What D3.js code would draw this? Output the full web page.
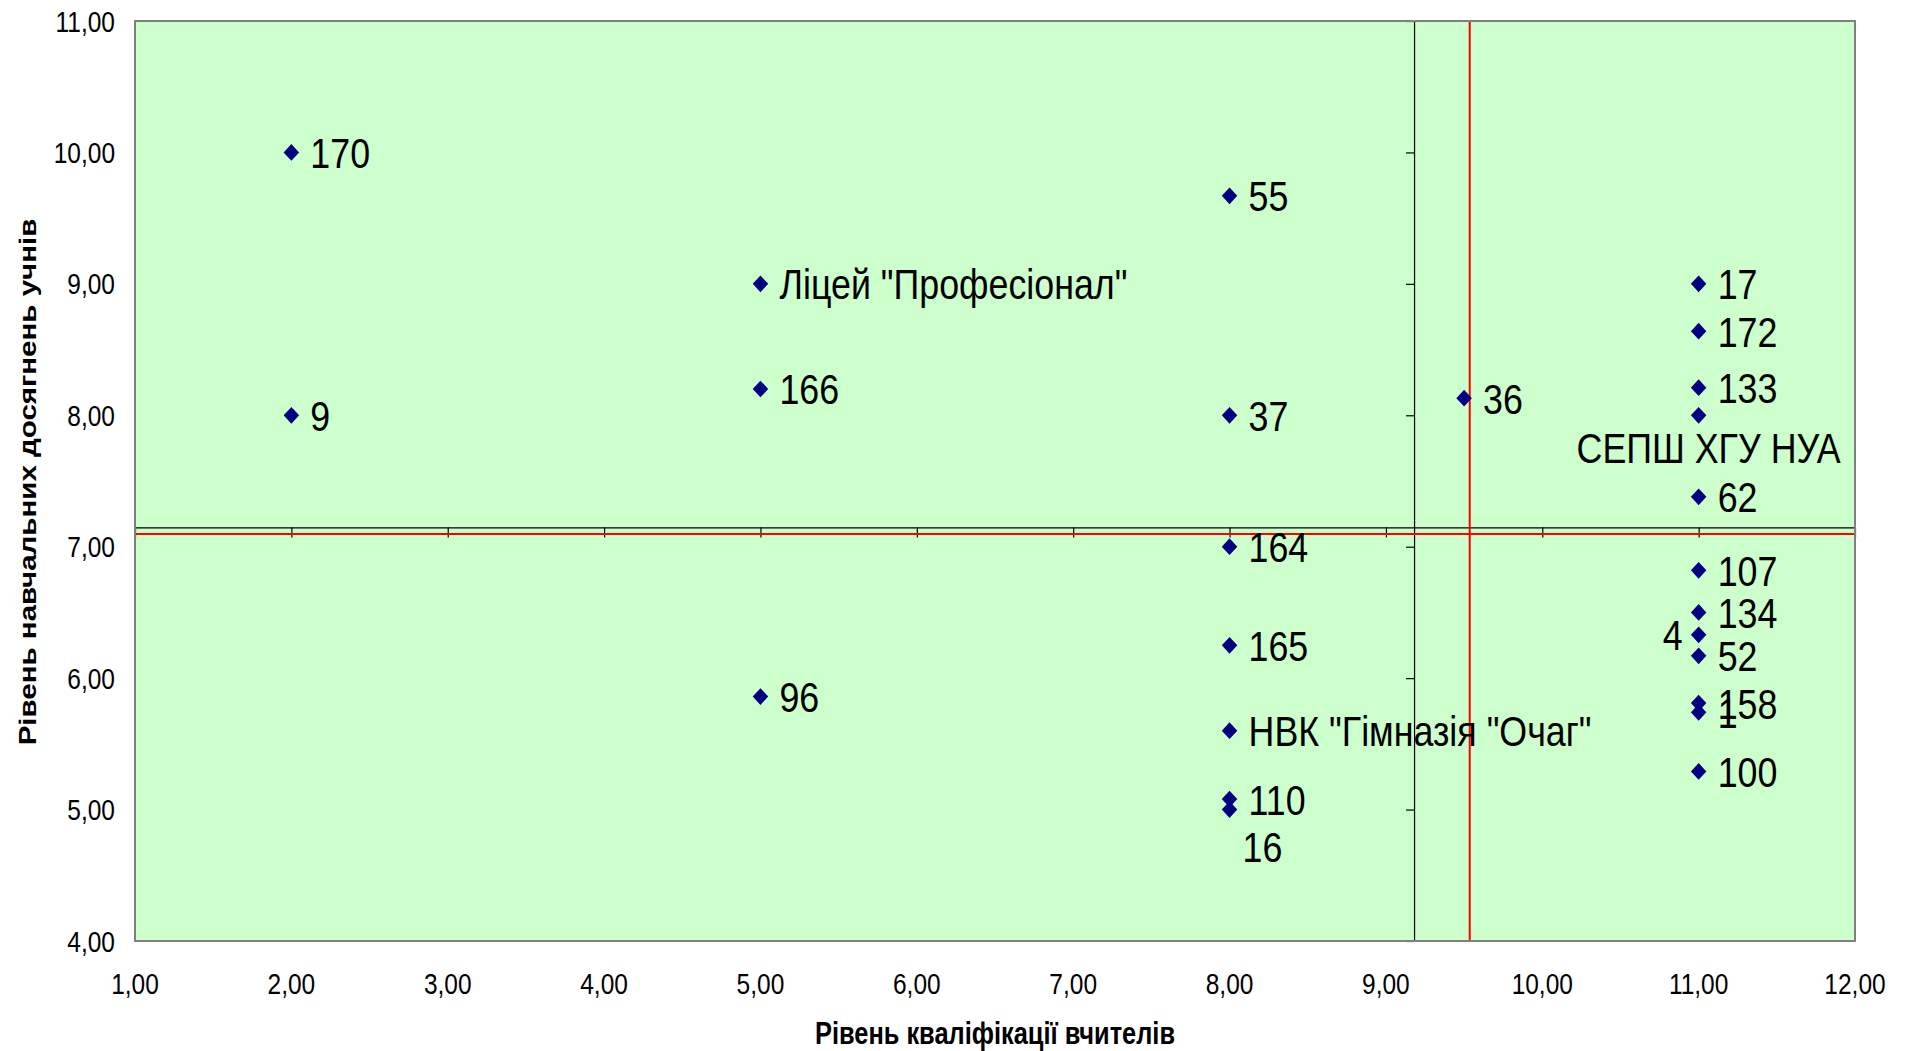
<!DOCTYPE html>
<html><head><meta charset="utf-8">
<script src="https://cdn.jsdelivr.net/npm/d3@7"></script>
<style>html,body{margin:0;padding:0;background:#fff;} svg{display:block;font-family:"Liberation Sans",Arial,sans-serif;}</style>
</head><body><svg id="c" width="1908" height="1051"></svg>
<script>
const names = ["170","9","Ліцей \"Професіонал\"","166","96","55","37","164","165","НВК \"Гімназія \"Очаг\"","110","16","36","17","172","133","СЕПШ ХГУ НУА","62","107","134","4","52","158","1","100"];
const xValues = [2,2,5,5,5,8,8,8,8,8,8,8,9.5,11,11,11,11,11,11,11,11,11,11,11,11];
const yValues = [10,8,9,8.2,5.86,9.67,8,7,6.25,5.6,5.08,5.0,8.13,9,8.64,8.21,8,7.38,6.82,6.5,6.33,6.17,5.81,5.74,5.29];
const labelPlacement = ["right","right","right","right","right","right","right","right","right","right","right","belowRight","right","right","right","right","below","right","right","right","left","right","right","right","right"];
const xTicks = [1,2,3,4,5,6,7,8,9,10,11,12];
const yTicks = [4,5,6,7,8,9,10,11];
const axisCross = [9.18, 7.147];
const referenceLines = [9.536, 7.096];
const xTitle = "Рівень кваліфікації вчителів";
const yTitle = "Рівень навчальних досягнень учнів";

const svg = d3.select("#c");
const L = 135, R = 1855, T = 21, B = 941;
const x = d3.scaleLinear().domain([1,12]).range([L,R]);
const y = d3.scaleLinear().domain([4,11]).range([B,T]);
const fmt = v => d3.format(".2f")(v).replace(".", ",");
const SY = 1.2;

// plot background
svg.append("rect").attr("x",L).attr("y",T).attr("width",R-L).attr("height",B-T)
  .attr("fill","#CCFFCC");

// axes crossing inside plot
const gx = svg.append("g").attr("transform",`translate(0,${y(axisCross[1])})`)
  .call(d3.axisBottom(x).tickValues(xTicks).tickSize(10).tickSizeOuter(0).tickFormat(""));
const gy = svg.append("g").attr("transform",`translate(${x(axisCross[0])},0)`)
  .call(d3.axisLeft(y).tickValues(yTicks).tickSize(8).tickSizeOuter(0).tickFormat(""));
[gx,gy].forEach(g=>{ g.selectAll("path,line").attr("stroke","#000").attr("stroke-width",1.2); });

// red reference lines
svg.append("line").attr("x1",x(referenceLines[0])).attr("x2",x(referenceLines[0]))
  .attr("y1",T).attr("y2",B).attr("stroke","#FF0000").attr("stroke-width",2);
svg.append("line").attr("x1",L).attr("x2",R)
  .attr("y1",y(referenceLines[1])).attr("y2",y(referenceLines[1])).attr("stroke","#FF0000").attr("stroke-width",2);

// border
svg.append("rect").attr("x",L).attr("y",T).attr("width",R-L).attr("height",B-T)
  .attr("fill","none").attr("stroke","#808080").attr("stroke-width",2);

// tick labels
svg.append("g").selectAll("text").data(xTicks).join("text")
  .attr("transform",d=>`translate(${x(d)},983) scale(1,${SY})`)
  .attr("text-anchor","middle").attr("dy","0.36em")
  .attr("font-size",24.5).attr("fill","#000").text(fmt);
svg.append("g").selectAll("text").data(yTicks).join("text")
  .attr("transform",d=>`translate(115,${y(d)}) scale(1,${SY})`)
  .attr("text-anchor","end").attr("dy","0.36em")
  .attr("font-size",24.5).attr("fill","#000").text(fmt);

// points
const pts = names.map((n,i)=>({name:n,x:xValues[i],y:yValues[i],pos:labelPlacement[i]}));
svg.append("g").selectAll("path").data(pts).join("path")
  .attr("d", d3.symbol(d3.symbolSquare, 120))
  .attr("transform", d=>`translate(${x(d.x)},${y(d.y)}) scale(1,1.08) rotate(45)`)
  .attr("fill","#000080");

// labels
const off = {
  right:{dx:19,dy:0,anchor:"start"},
  left:{dx:-16,dy:0,anchor:"end"},
  below:{dx:10,dy:32,anchor:"middle"},
  belowRight:{dx:13,dy:37,anchor:"start"}
};
svg.append("g").selectAll("text").data(pts).join("text")
  .attr("transform", d=>`translate(${x(d.x)+off[d.pos].dx},${y(d.y)+off[d.pos].dy}) scale(1,${SY})`)
  .attr("text-anchor", d=>off[d.pos].anchor)
  .attr("dy","0.36em").attr("font-size",35.8).attr("fill","#000")
  .text(d=>d.name);

// titles
svg.append("text").attr("transform",`translate(995,1033) scale(1,${SY})`)
  .attr("text-anchor","middle").attr("dy","0.36em").attr("font-weight","bold")
  .attr("font-size",25.4).attr("fill","#000").text(xTitle);
svg.append("text").attr("transform",`translate(27,482) rotate(-90) scale(${SY},1)`)
  .attr("text-anchor","middle").attr("dy","0.36em").attr("font-weight","bold")
  .attr("font-size",24.6).attr("fill","#000").text(yTitle);
</script></body></html>
